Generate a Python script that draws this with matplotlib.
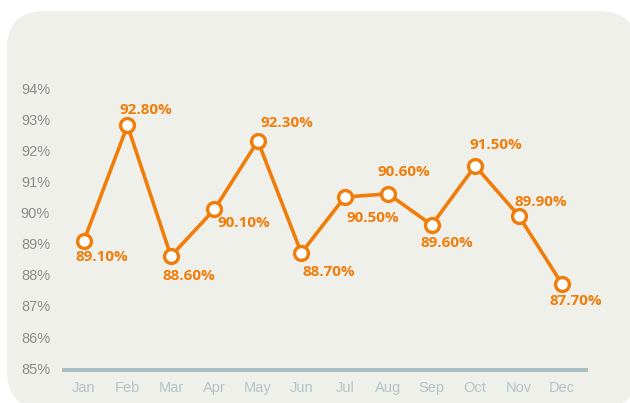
import matplotlib
matplotlib.use('Agg')
import matplotlib.pyplot as plt
from matplotlib.patches import FancyBboxPatch

months = ['Jan', 'Feb', 'Mar', 'Apr', 'May', 'Jun', 'Jul', 'Aug', 'Sep', 'Oct', 'Nov', 'Dec']
rates = [89.1, 92.8, 88.6, 90.1, 92.3, 88.7, 90.5, 90.6, 89.6, 91.5, 89.9, 87.7]
y_ticks = [85, 86, 87, 88, 89, 90, 91, 92, 93, 94]
# label offsets in points (dx, dy)
label_offsets = [(13, -12), (13, 11), (13, -14), (21, -10), (21, 13), (20, -14),
                 (20, -15), (11, 16), (11, -13), (15, 15), (16, 10), (10, -12)]

ORANGE = '#f07d0a'
BG = '#f0f0eb'
NARROW = ['Liberation Sans', 'DejaVu Sans']

fig = plt.figure(figsize=(6.3, 4.03), dpi=100)
fig.patch.set_facecolor('white')

# rounded panel behind the chart
panel = FancyBboxPatch((7 / 630, -0.015), 1.0, (403 - 11) / 403 + 0.015,
                       boxstyle='round,pad=0,rounding_size=0.06',
                       transform=fig.transFigure, facecolor=BG, edgecolor='none',
                       mutation_aspect=630 / 403, zorder=-10)
fig.patches.append(panel)

ax = fig.add_axes([64 / 630, 33 / 403, (586 - 64) / 630, (370 - 80) / 403])
ax.set_facecolor('none')
ax.set_zorder(5)

x = list(range(len(months)))
ax.plot(x, rates, color=ORANGE, lw=2.6, marker='o', ms=10,
        markerfacecolor='white', markeredgecolor=ORANGE, markeredgewidth=2.4,
        zorder=3, clip_on=False)

for xi, v, (dx, dy) in zip(x, rates, label_offsets):
    ax.annotate(f'{v:.2f}%', (xi, v), xytext=(dx, dy), textcoords='offset points',
                ha='center', va='center', color=ORANGE, fontsize=11,
                fontweight='bold', family=['Open Sans', 'DejaVu Sans'])

ax.set_xlim(-0.46, 11.55)
ax.set_ylim(84.94, 94.26)
ax.set_xticks(x)
ax.set_xticklabels(months, family=NARROW, fontsize=10.5, color='#b3c3c9')
ax.set_yticks(y_ticks)
ax.set_yticklabels([f'{t}%' for t in y_ticks], family=NARROW, fontsize=10.5,
                   color='#8c8c8c')
ax.tick_params(axis='both', length=0)
ax.tick_params(axis='x', pad=8)
ax.tick_params(axis='y', pad=10)
for s in ['top', 'right', 'left']:
    ax.spines[s].set_visible(False)
ax.spines['bottom'].set_color('#a8bcc3')
ax.spines['bottom'].set_linewidth(2.8)

fig.savefig('out.png', dpi=100)
